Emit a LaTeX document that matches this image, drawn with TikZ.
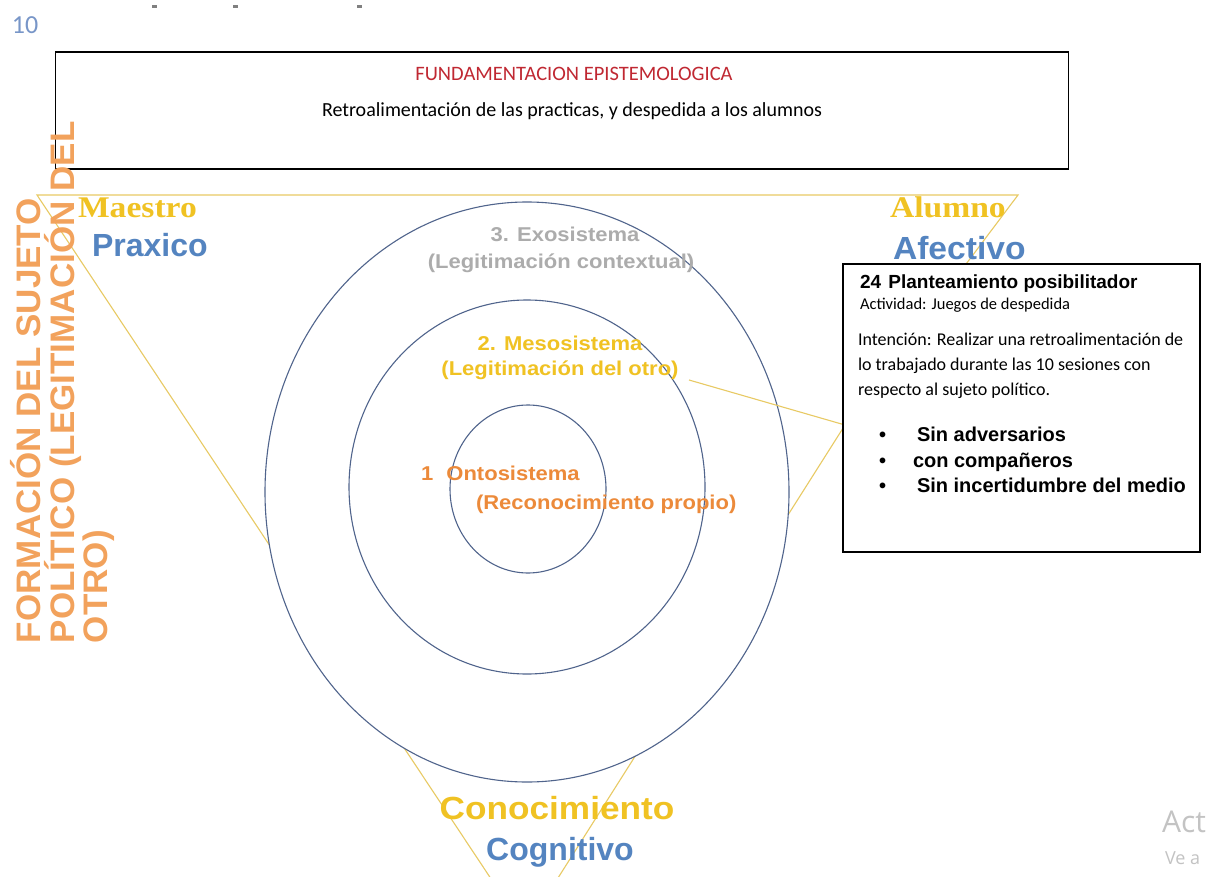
\documentclass[tikz,border=0pt]{standalone}
\usepackage{fontspec}
\usepackage{graphicx}
\setmainfont{Liberation Sans}
\newfontfamily\arialf{Liberation Sans}
\newfontfamily\timesf{Liberation Serif}
\newfontfamily\calibf{Carlito}
\newfontfamily\segoef{Open Sans}
\newcommand{\hs}[2]{\scalebox{#1}[1]{#2}}
\newcommand{\fs}[1]{\fontsize{#1}{#1}\selectfont}
\definecolor{triC}{RGB}{232,202,100}
\definecolor{circC}{RGB}{80,100,140}
\definecolor{yelT}{RGB}{240,194,35}
\definecolor{bluT}{RGB}{84,132,192}
\definecolor{grayT}{RGB}{172,172,172}
\definecolor{oraT}{RGB}{236,138,58}
\definecolor{oraV}{RGB}{242,162,92}
\definecolor{redT}{RGB}{192,40,50}
\definecolor{numC}{RGB}{120,150,200}
\definecolor{wmC}{RGB}{195,195,195}
\begin{document}
\begin{tikzpicture}[x=1pt,y=-1pt,
  tri/.style={draw=triC, line width=1.1pt},
  circ/.style={draw=circC, line width=1.1pt, fill=white},
  txt/.style={inner sep=0pt, outer sep=0pt},
  circtxt/.style={txt, font=\arialf\bfseries\fs{20}},
  role/.style={txt, font=\timesf\bfseries\fs{30}, text=yelT},
  dom/.style={txt, font=\arialf\bfseries\fs{32}, text=bluT},
  vert/.style={txt, rotate=90, anchor=west, font=\arialf\bfseries\fs{34}, text=oraV},
  para/.style={txt, anchor=base west, font=\calibf\fs{18}},
  bul/.style={txt, anchor=base west, font=\arialf\bfseries\fs{20}},
  boxline/.style={draw=black, line width=1.4pt, inner sep=0pt}]
\useasboundingbox (0,0) rectangle (1225,877);
\fill[white] (0,0) rectangle (1225,877);

% small marks at the top edge
\fill[gray] (152,5) rectangle (157,8);
\fill[gray] (233,5) rectangle (238,8);
\fill[gray] (357,5) rectangle (362,8);

% page number
\node[txt, anchor=base west, font=\calibf\fs{26}, text=numC] (num) at (12,34) {10};

% triangle
\coordinate (tl) at (37,195);
\coordinate (tr) at (1018,195);
\coordinate (ap) at (525,930);
\coordinate (pj) at (845,425);
\coordinate (ms) at (689,380);
\draw[tri] (tl) -- (tr) -- (pj) -- (ap) -- cycle;

% circles
\draw[circ] (527,492) ellipse [x radius=262, y radius=290];
\draw[circ] (527,487) ellipse [x radius=178, y radius=187];
\draw[circ] (528,489) ellipse [x radius=78, y radius=84];

% connector from Mesosistema to the box
\draw[tri] (ms) -- (pj);

% circle labels
\node[circtxt, anchor=base, text=grayT] (exo1) at (565,241) {\hs{1.1}{3. Exosistema}};
\node[circtxt, anchor=base, text=grayT] (exo2) at (561,269) {\hs{1.1}{(Legitimación contextual)}};
\node[circtxt, anchor=base, text=yelT] (meso1) at (560,350) {\hs{1.1}{2. Mesosistema}};
\node[circtxt, anchor=base, text=yelT] (meso2) at (560,375) {\hs{1.1}{(Legitimación del otro)}};
\node[circtxt, anchor=base west, text=oraT] (onto1) at (421,480) {\hs{1.1}{1\hspace{12pt}Ontosistema}};
\node[circtxt, anchor=base west, text=oraT] (onto2) at (476,509) {\hs{1.1}{(Reconocimiento propio)}};

% corner labels
\node[role, anchor=base west] (maestro) at (78,218) {\hs{1.12}{Maestro}};
\node[dom, anchor=base west] (praxico) at (92,256) {Praxico};
\node[role, anchor=base west] (alumno) at (890,218) {\hs{1.12}{Alumno}};
\node[dom, anchor=base west] (afectivo) at (893,259) {\hs{1.05}{Afectivo}};
\node[txt, anchor=base, font=\arialf\bfseries\fs{32}, text=yelT] (conoc) at (557,819) {\hs{1.1}{Conocimiento}};
\node[dom, anchor=base] (cognitivo) at (560,860) {Cognitivo};

% top box
\node[boxline, minimum width=1013pt, minimum height=117pt] (fbox) at (562,110.5) {};
\node[txt, anchor=base, font=\calibf\fs{20.5}, text=redT] (ftitle) at (574,81) {FUNDAMENTACION EPISTEMOLOGICA};
\node[txt, anchor=base, font=\calibf\fs{20}] (fline) at (572,117) {Retroalimentación de las practicas, y despedida a los alumnos};

% vertical title
\node[vert] (v1) at (26,643) {\hs{1.03}{FORMACIÓN DEL SUJETO}};
\node[vert] (v2) at (63,643) {\hs{1.03}{POLÍTICO (LEGITIMACIÓN DEL}};
\node[vert] (v3) at (99,643) {\hs{1.03}{OTRO)}};

% right box
\node[boxline, fill=white, minimum width=357pt, minimum height=288pt] (pbox) at (1021.5,408) {};
\node[txt, anchor=base west, font=\arialf\bfseries\fs{19}] (ptitle) at (860,288) {24\hspace{2pt} Planteamiento posibilitador};
\node[para, font=\calibf\fs{16.5}] (pact) at (860,309) {Actividad: Juegos de despedida};
\node[para] (pi1) at (858,345) {Intención: Realizar una retroalimentación de};
\node[para] (pi2) at (858,370) {lo trabajado durante las 10 sesiones con};
\node[para] (pi3) at (858,395) {respecto al sujeto político.};
\node[bul] (b1) at (879,441) {•};
\node[bul] (b2) at (879,467) {•};
\node[bul] (b3) at (879,492) {•};
\node[bul] (t1) at (917,441) {Sin adversarios};
\node[bul] (t2) at (913,467) {con compañeros};
\node[bul] (t3) at (917,492) {Sin incertidumbre del medio};

% watermark remnants
\node[txt, anchor=base west, font=\segoef\fs{30}, text=wmC] (wm1) at (1162,832) {Act};
\node[txt, anchor=base west, font=\segoef\fs{18}, text=wmC] (wm2) at (1165,864) {Ve a};
\end{tikzpicture}
\end{document}
